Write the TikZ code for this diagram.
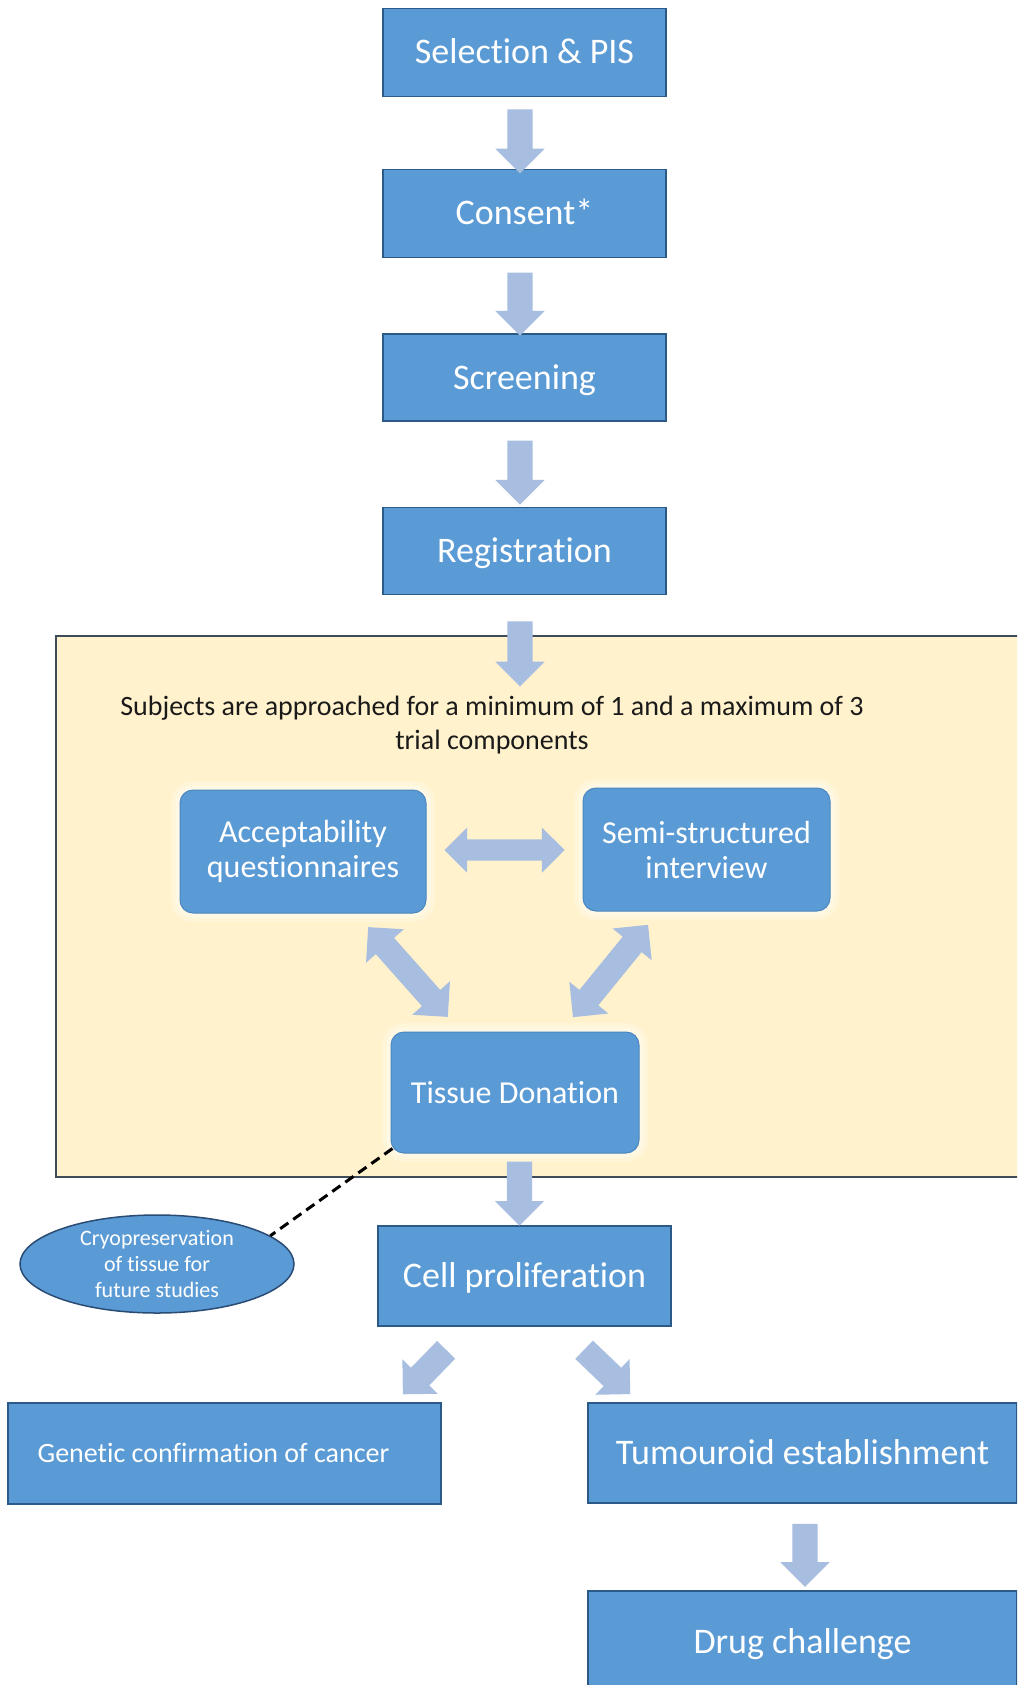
\documentclass[tikz,border=0pt]{standalone}
\usepackage{fontspec}
\setmainfont{Carlito}[Ligatures={NoCommon,NoRare,NoContextual}]
\usetikzlibrary{shapes.arrows,shapes.geometric}
\definecolor{boxblue}{HTML}{5B9BD5}
\definecolor{boxedge}{HTML}{2C5A88}
\definecolor{rboxedge}{HTML}{4A86C0}
\definecolor{arrowc}{HTML}{A8BEE0}
\definecolor{panelfill}{HTML}{FFF2CC}
\definecolor{paneledge}{HTML}{3E4B59}
\definecolor{ellipseedge}{HTML}{2A4B73}
\definecolor{textdark}{HTML}{1A1A1A}
\tikzset{
  sqbox/.style={rectangle, fill=boxblue, draw=boxedge, line width=1.6pt, text=white,
    inner sep=0pt, align=center, font=\fontsize{36}{42}\selectfont, text height=23pt, text depth=0pt},
  rbox/.style={rectangle, rounded corners=13pt, fill=boxblue, draw=rboxedge, line width=1pt,
    text=white, inner sep=0pt, align=center, font=\fontsize{32}{35}\selectfont,
    preaction={draw=white, line width=18pt, opacity=.25},
    preaction={draw=white, line width=9pt, opacity=.35}},
  onearrow/.style={single arrow, fill=arrowc, draw=none, inner xsep=0pt, inner ysep=12.5pt,
    single arrow head extend=12pt, single arrow tip angle=90, sloped, allow upside down,
    anchor=center},
  twoarrow/.style={double arrow, fill=arrowc, draw=none, inner xsep=0pt, inner ysep=12pt,
    double arrow head extend=13pt, double arrow tip angle=90, sloped, allow upside down,
    anchor=center},
  dashline/.style={draw=black, line width=3pt, dash pattern=on 10pt off 6pt},
  panel/.style={rectangle, fill=panelfill, draw=paneledge, line width=1.6pt, inner sep=0pt}
}
\begin{document}
\begin{tikzpicture}[x=1pt,y=-1pt]
\useasboundingbox (0,0) rectangle (1017,1685);
\clip (0,0) rectangle (1017,1685);
\fill[white] (0,0) rectangle (1017,1685);

% yellow panel
\node[panel, minimum width=974pt, minimum height=541pt] (panel) at (543,906.5) {};

% top chain
\node[sqbox, minimum width=283pt, minimum height=88pt] (sel) at (524.5,52.5) {Selection \& PIS};
\node[sqbox, minimum width=283pt, minimum height=88pt] (con) at (524.5,213.5) {Consent*};
\node[sqbox, minimum width=283pt, minimum height=87pt] (scr) at (524.5,377.5) {Screening};
\node[sqbox, minimum width=283pt, minimum height=87pt] (reg) at (524.5,551) {Registration};

% text in panel
\node[text=textdark, align=center, font=\fontsize{28}{34}\selectfont, inner sep=0pt] (subj) at (492,725)
  {Subjects are approached for a minimum of 1 and a maximum of 3\\trial components};

% components
\node[rbox, minimum width=246pt, minimum height=123pt] (acc) at (303,851.5) {Acceptability\\questionnaires};
\node[rbox, minimum width=247pt, minimum height=123pt] (semi) at (706.5,849.5) {Semi-structured\\interview};
\node[rbox, minimum width=248pt, minimum height=121pt] (tis) at (515,1092.5) {Tissue Donation};

% lower chain
\node[sqbox, minimum width=293pt, minimum height=100pt] (cp) at (524.5,1276) {Cell proliferation};
\node[sqbox, minimum width=433pt, minimum height=101pt, font=\fontsize{28}{34}\selectfont, text height=18pt] (gen) at (224.5,1453.5) {\hspace*{-22pt}Genetic confirmation of cancer};
\node[sqbox, minimum width=429pt, minimum height=100pt] (tum) at (802.5,1453) {Tumouroid establishment};
\node[sqbox, minimum width=429pt, minimum height=102pt] (drug) at (802.5,1642) {Drug challenge};

% cryo ellipse
\node[ellipse, fill=boxblue, draw=ellipseedge, line width=1.5pt, minimum width=274pt, minimum height=98pt,
  inner sep=0pt, text=white, align=center, font=\fontsize{22}{26}\selectfont] (cryo) at (157,1264)
  {Cryopreservation\\of tissue for\\future studies};

% straight down arrows
\path ([xshift=-4.5pt,yshift=-4pt]sel.south) -- ([xshift=-4.5pt]con.north) node[midway, onearrow, minimum height=64pt] {};
\path ([xshift=-4.5pt,yshift=-4pt]con.south) -- ([xshift=-4.5pt]scr.north) node[midway, onearrow, minimum height=63pt] {};
\path ([xshift=-4.5pt,yshift=-4pt]scr.south) -- ([xshift=-4.5pt]reg.north) node[midway, onearrow, minimum height=64pt] {};
\path ([xshift=-4.5pt,yshift=-4pt]reg.south) -- ([xshift=-4.5pt]reg.south |- subj.north) node[midway, onearrow, minimum height=65pt] {};
\path ([xshift=-5pt]cp.north |- tis.south) -- ([xshift=-5pt,yshift=4pt]cp.north) node[midway, onearrow, minimum height=64pt] {};
\path ([xshift=2.5pt,yshift=-4pt]tum.south) -- ([xshift=2.5pt]drug.north) node[midway, onearrow, minimum height=63pt] {};

% diagonal arrows from cell proliferation
\path ([shift={(-74.5pt,-19pt)}]cp.south) -- ([shift={(-34pt,13pt)}]gen.north east) node[midway, onearrow, minimum height=62pt] {};
\path ([shift={(55.5pt,-19pt)}]cp.south) -- ([shift={(38pt,13pt)}]tum.north west) node[midway, onearrow, minimum height=64pt] {};

% double arrows between components
\path ([yshift=1.5pt]acc.east) -- ([yshift=1.5pt]acc.east -| semi.west) node[midway, twoarrow, inner ysep=10.5pt, double arrow head extend=12pt, minimum height=120pt] {};
\path ([shift={(-58pt,-14pt)}]acc.south east) -- ([shift={(57pt,15pt)}]tis.north west) node[midway, twoarrow, minimum height=120pt] {};
\path ([shift={(65pt,-14pt)}]semi.south west) -- ([shift={(-66pt,15pt)}]tis.north east) node[midway, twoarrow, minimum height=119pt] {};

% dashed link
\draw[dashline] ([shift={(2pt,5pt)}]tis.south west) -- (cryo.14);
\end{tikzpicture}
\end{document}
